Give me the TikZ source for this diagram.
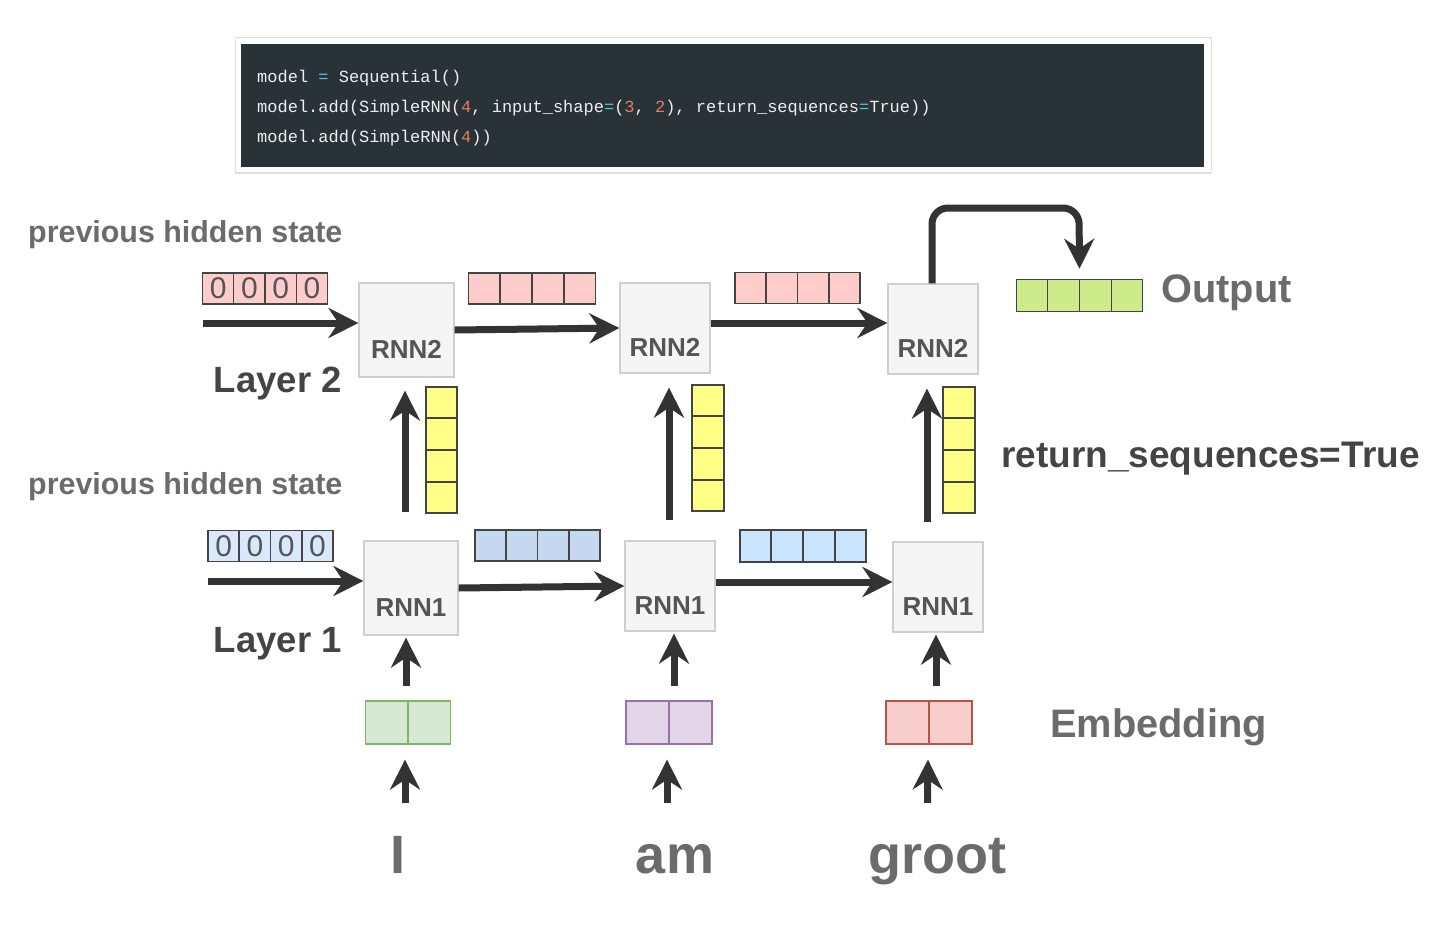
\documentclass[tikz,border=0pt]{standalone}
\usepackage{fontspec}
\setmainfont{Liberation Sans}
\newfontfamily\codefont{Liberation Mono}
\usetikzlibrary{arrows.meta,calc,shadows}

\definecolor{codebg}{HTML}{283237}
\definecolor{codetext}{HTML}{EEEEEE}
\definecolor{codenum}{HTML}{E2805C}
\definecolor{codeeq}{HTML}{5FC0CF}
\definecolor{arrowgray}{HTML}{333333}
\definecolor{boxfill}{HTML}{F5F5F5}
\definecolor{boxline}{HTML}{CFCFCF}
\definecolor{rnntext}{HTML}{555555}
\definecolor{cellline}{HTML}{444444}
\definecolor{lightgray}{HTML}{6B6B6B}
\definecolor{darkgray}{HTML}{444444}
\definecolor{hpink}{HTML}{FFCCCC}
\definecolor{hblue}{HTML}{DAE8FC}
\definecolor{sblue}{HTML}{C4D8F0}
\definecolor{sbluelight}{HTML}{CCE5FF}
\definecolor{yel}{HTML}{FFFF88}
\definecolor{outgreen}{HTML}{CDEB8B}
\definecolor{embgreen}{HTML}{D5E8D4}
\definecolor{embgreenline}{HTML}{82B366}
\definecolor{embpurple}{HTML}{E1D5E7}
\definecolor{embpurpleline}{HTML}{9673A6}
\definecolor{embred}{HTML}{F8CECC}
\definecolor{embredline}{HTML}{B85450}

\newcommand{\cnum}[1]{\textcolor{codenum}{#1}}
\newcommand{\ceq}{\textcolor{codeeq}{=}}
\newcommand{\zcell}{\makebox[31.25pt]{0}}

\begin{document}
\begin{tikzpicture}[x=1pt,y=-1pt,
    arr/.style={draw=arrowgray, line width=7pt, -{Stealth[length=30pt,width=30pt,inset=10pt]}},
    rnnbox/.style={draw=boxline, line width=1.2pt, fill=boxfill, minimum width=90pt, minimum height=90pt,
        inner sep=0pt, text height=56pt, text depth=0pt, text=rnntext, font=\fontsize{26pt}{26pt}\selectfont\bfseries},
    cellstrip/.style={draw=cellline, line width=1.5pt, inner sep=0pt, minimum width=125pt, minimum height=31pt},
    zeros/.style={cellstrip, text=rnntext, font=\fontsize{30pt}{30pt}\selectfont},
    emb/.style={line width=1.2pt, inner sep=0pt, minimum width=85pt, minimum height=43pt},
    lbl/.style={inner sep=0pt, text=lightgray, font=\fontsize{30.4pt}{36pt}\selectfont\bfseries},
    biglbl/.style={inner sep=0pt, text=lightgray, font=\fontsize{39.8pt}{44pt}\selectfont\bfseries},
    layerlbl/.style={inner sep=0pt, text=darkgray, font=\fontsize{36.5pt}{40pt}\selectfont\bfseries},
    word/.style={inner sep=0pt, anchor=base, text height=40pt, text depth=12pt, text=lightgray,
        font=\fontsize{54pt}{60pt}\selectfont\bfseries},
    codeline/.style={inner sep=0pt, anchor=base west, text=codetext, font=\codefont\fontsize{17pt}{20pt}\selectfont}]
    \useasboundingbox (0,0) rectangle (1432,932);
    \fill[white] (0,0) rectangle (1432,932);

    % code card
    \node[draw=black!12, line width=1pt, fill=white, minimum width=976pt, minimum height=135pt, inner sep=0pt,
        drop shadow={opacity=0.25, shadow xshift=0pt, shadow yshift=-2pt}] (card) at (723,104.5) {};
    \node[fill=codebg, minimum width=963pt, minimum height=123pt, inner sep=0pt] (code) at (722.5,105.5) {};
    \node[codeline] (code1) at (257,82) {model \ceq{} Sequential()};
    \node[codeline] (code2) at (257,112) {model.add(SimpleRNN(\cnum{4}, input\_shape\ceq(\cnum{3}, \cnum{2}), return\_sequences\ceq True))};
    \node[codeline] (code3) at (257,142) {model.add(SimpleRNN(\cnum{4}))};

    % labels
    \node[lbl, anchor=base west] (prev2) at (28,242) {previous hidden state};
    \node[lbl, anchor=base west] (prev1) at (28,494) {previous hidden state};
    \node[layerlbl, anchor=base east] (layer2) at (342,392) {Layer 2};
    \node[layerlbl, anchor=base east] (layer1) at (342,652) {Layer 1};
    \node[layerlbl, anchor=base west, font=\fontsize{37pt}{40pt}\selectfont\bfseries] (retseq) at (1001,467) {return\_sequences=True};
    \node[biglbl, anchor=base west] (outlbl) at (1161,302) {Output};
    \node[biglbl, anchor=base west] (emblbl) at (1050,737) {Embedding};

    % layer 2
    \node[zeros, fill=hpink] (h2) at (265,288.5) {\zcell\zcell\zcell\zcell};
    \coordinate (h2in) at (203,323);
    \node[rnnbox, minimum width=95pt, minimum height=94pt] (r21) at (406.5,330) {RNN2};
    \node[cellstrip, fill=hpink, minimum width=127pt] (s21) at (532,288.5) {};
    \node[rnnbox] (r22) at (665,328) {RNN2};
    \node[cellstrip, fill=hpink] (s22) at (797.5,288) {};
    \node[rnnbox] (r23) at (933,329) {RNN2};
    \node[cellstrip, fill=outgreen, minimum width=126pt, minimum height=32pt] (out) at (1079.5,295.5) {};
    \coordinate (otop) at (1079,208);

    % returned sequence
    \node[cellstrip, fill=yel, minimum width=31pt, minimum height=126pt] (y1) at (441.5,450) {};
    \node[cellstrip, fill=yel, minimum width=32pt, minimum height=126pt] (y2) at (708,448) {};
    \node[cellstrip, fill=yel, minimum width=32pt, minimum height=126pt] (y3) at (959,450) {};

    % layer 1
    \node[zeros, fill=hblue] (h1) at (270.5,546) {\zcell\zcell\zcell\zcell};
    \coordinate (h1in) at (208,581);
    \node[rnnbox, minimum width=94pt, minimum height=94pt] (r11) at (411,588) {RNN1};
    \node[cellstrip, fill=sblue] (s11) at (537.5,545.5) {};
    \node[rnnbox] (r12) at (670,586) {RNN1};
    \node[cellstrip, fill=sbluelight, minimum width=126pt, minimum height=32pt] (s12) at (803,546) {};
    \node[rnnbox] (r13) at (938,587) {RNN1};

    % embeddings and words
    \node[emb, draw=embgreenline, fill=embgreen] (e1) at (408,722.5) {};
    \node[emb, draw=embpurpleline, fill=embpurple, minimum width=86pt] (e2) at (669,722.5) {};
    \node[emb, draw=embredline, fill=embred, minimum width=86pt] (e3) at (929,722.5) {};
    \node[word] (w1) at (398,873) {I};
    \node[word] (w2) at (675,873) {am};
    \node[word] (w3) at (937.5,873) {groot};

    % cell dividers
    \foreach \s in {h2,s21,s22,out,h1,s11,s12}
        \foreach \i in {1,2,3}
            \draw[cellline, line width=1.5pt] ($(\s.south west)!\i/4!(\s.south east)$) -- ($(\s.north west)!\i/4!(\s.north east)$);
    \foreach \s in {y1,y2,y3}
        \foreach \i in {1,2,3}
            \draw[cellline, line width=1.5pt] ($(\s.north west)!\i/4!(\s.south west)$) -- ($(\s.north east)!\i/4!(\s.south east)$);
    \foreach \s/\c in {e1/embgreenline,e2/embpurpleline,e3/embredline}
        \draw[\c, line width=1.2pt] (\s.south) -- (\s.north);

    % horizontal arrows
    \draw[arr] (h2in) -- (h2in -| r21.west);
    \draw[arr] (r21.east) -- (r22.west);
    \draw[arr] ([yshift=5pt]r22.east) -- ([yshift=6pt]r23.west);
    \draw[arr] (h1in) -- (h1in -| r11.west);
    \draw[arr] (r11.east) -- (r12.west);
    \draw[arr] ([yshift=4pt]r12.east) -- ([yshift=5pt]r13.west);

    % output
    \draw[arr, rounded corners=16pt] ([xshift=-1pt]r23.north) |- (otop) -- ([yshift=10pt]out.north);

    % layer 1 to layer 2
    \draw[arr] ([xshift=-6pt,yshift=28pt]r11.north) -- ([xshift=-1.5pt,yshift=-13pt]r21.south);
    \draw[arr] ([xshift=-1pt,yshift=20pt]r12.north) -- ([xshift=4pt,yshift=-14pt]r22.south);
    \draw[arr] ([xshift=-11pt,yshift=19pt]r13.north) -- ([xshift=-6pt,yshift=-14pt]r23.south);

    % inputs
    \draw[arr] ([xshift=-2pt,yshift=14pt]e1.north) -- ([xshift=-5pt,yshift=-2pt]r11.south);
    \draw[arr] ([xshift=5pt,yshift=14pt]e2.north) -- ([xshift=4pt,yshift=-2pt]r12.south);
    \draw[arr] ([xshift=7pt,yshift=14pt]e3.north) -- ([xshift=-2pt,yshift=-2pt]r13.south);
    \draw[arr] ([xshift=7pt,yshift=30pt]w1.north) -- ([xshift=-3pt,yshift=-15pt]e1.south);
    \draw[arr] ([xshift=-8pt,yshift=30pt]w2.north) -- ([xshift=-2pt,yshift=-15pt]e2.south);
    \draw[arr] ([xshift=-10pt,yshift=30pt]w3.north) -- ([xshift=-1pt,yshift=-15pt]e3.south);
\end{tikzpicture}
\end{document}
